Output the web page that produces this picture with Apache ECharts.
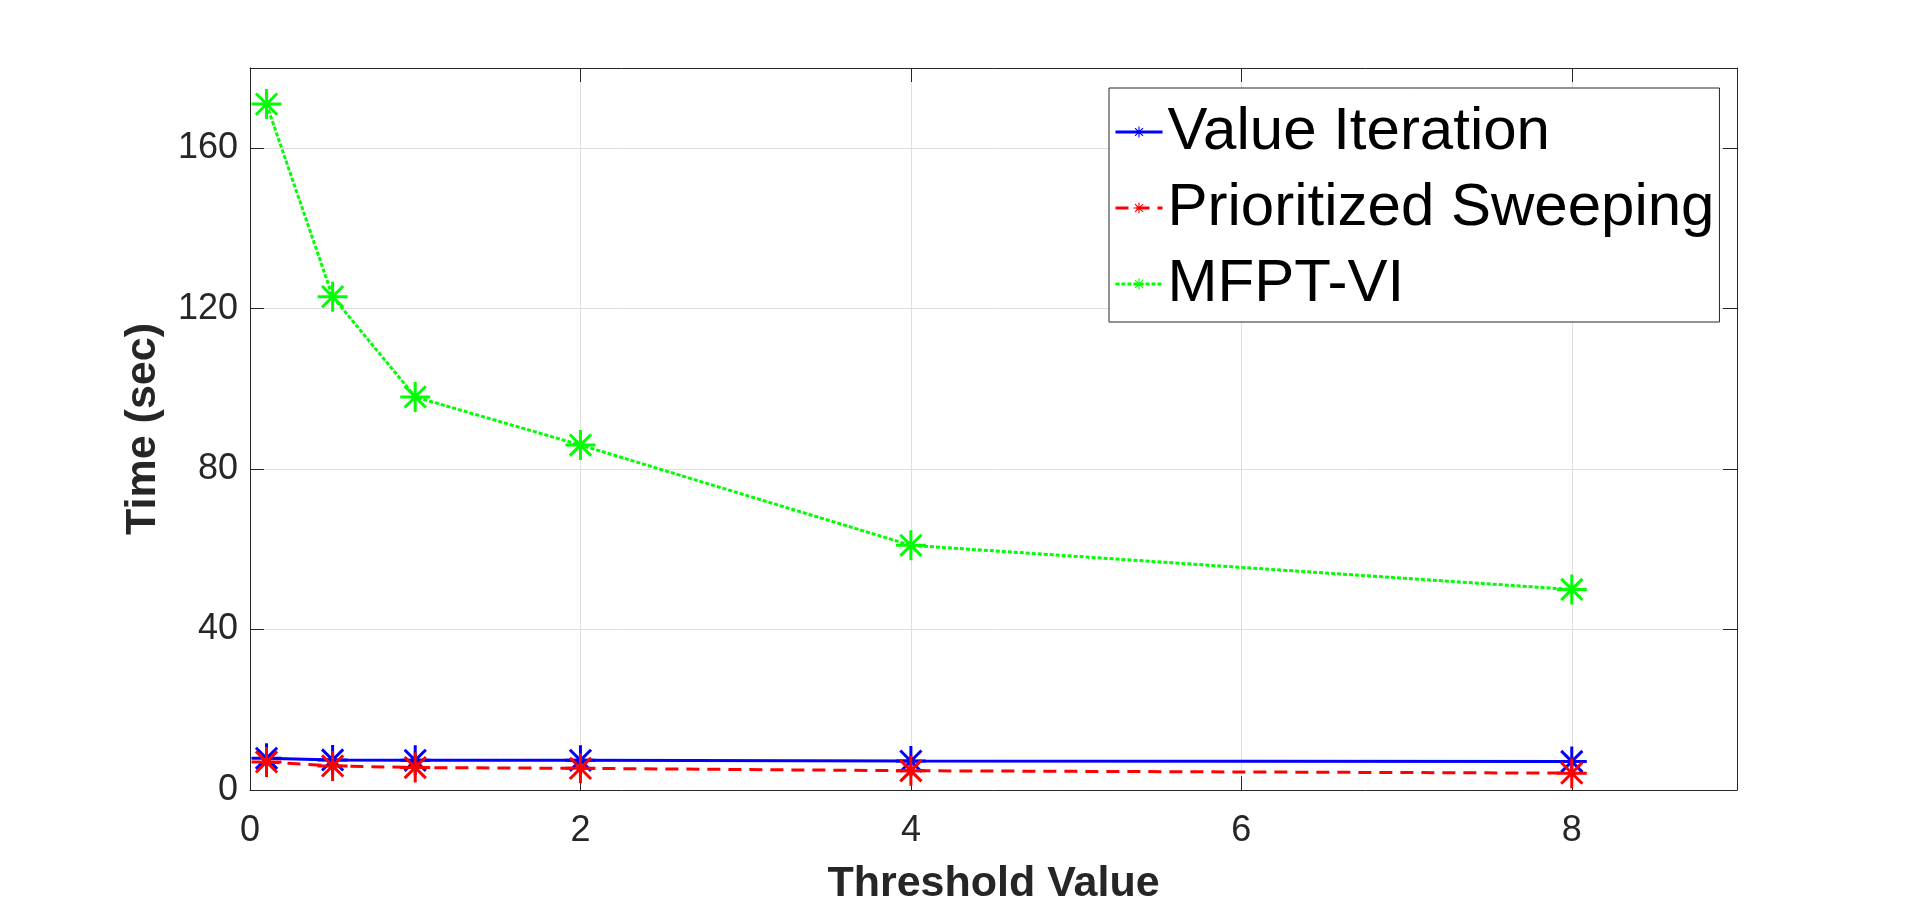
<!DOCTYPE html>
<html>
<head>
<meta charset="utf-8">
<script src="https://cdn.jsdelivr.net/npm/echarts@6/dist/echarts.min.js"></script>
<style>
  html, body { margin: 0; padding: 0; background: #fff; }
  #chart { width: 1920px; height: 911px; }
</style>
</head>
<body>
<div id="chart"></div>
<script>
const thresholds = [0.1, 0.5, 1, 2, 4, 8];
const valueIteration = [7.9, 7.5, 7.4, 7.4, 7.2, 7.1];
const prioritizedSweeping = [7.0, 6.0, 5.6, 5.4, 4.8, 4.2];
const mfptVI = [171, 123, 98, 86, 61, 50];

const xTicks = [0, 2, 4, 6, 8];
const yTicks = [0, 40, 80, 120, 160];

// matlab style '*' marker, made of four thin filled bars
const star = 'path://M0 13.5H30V16.5H0Z M13.5 0H16.5V30H13.5Z ' +
  'M5.46 3.34L26.66 24.54L24.54 26.66L3.34 5.46Z ' +
  'M3.34 24.54L24.54 3.34L26.66 5.46L5.46 26.66Z';

const font = 'Liberation Sans';
const ink = '#262626';

function pairs(ys) {
  return thresholds.map((x, i) => [x, ys[i]]);
}

const chart = echarts.init(document.getElementById('chart'));

const axisBase = {
  axisLine: { show: true, onZero: false, lineStyle: { color: ink, width: 1 } },
  axisTick: { show: true, inside: true, length: 14, lineStyle: { color: ink, width: 1 } }
};

const option = {
  backgroundColor: '#fff',
  animation: false,
  grid: { left: 250, right: 183, top: 68, bottom: 119 },
  legend: {
    orient: 'vertical',
    left: 1109,
    top: 88,
    padding: [6, 5, 0, 5],
    itemGap: 0,
    itemWidth: 47,
    itemHeight: 14,
    backgroundColor: '#fff',
    borderColor: ink,
    borderWidth: 1,
    borderRadius: 0,
    selectedMode: false,
    lineStyle: { width: 3 },
    textStyle: { fontFamily: font, fontSize: 60, color: '#000', lineHeight: 76 },
    data: ['Value Iteration', 'Prioritized Sweeping', 'MFPT-VI']
  },
  xAxis: [{
    type: 'value', min: 0, max: 9, interval: 2, position: 'bottom',
    name: 'Threshold Value', nameLocation: 'middle', nameGap: 73,
    nameTextStyle: { fontFamily: font, fontSize: 43, fontWeight: 'bold', color: ink },
    ...axisBase,
    axisLabel: {
      fontFamily: font, fontSize: 36, color: ink, margin: 23,
      formatter: v => xTicks.includes(v) ? String(v) : ''
    },
    splitLine: { show: true, lineStyle: { color: '#dfdfdf', width: 1 } }
  }, {
    type: 'value', min: 0, max: 9, interval: 2, position: 'top',
    ...axisBase,
    axisLabel: { show: false },
    splitLine: { show: false }
  }],
  yAxis: [{
    type: 'value', min: 0, max: 180, interval: 40, position: 'left',
    name: 'Time (sec)', nameLocation: 'middle', nameGap: 85,
    nameTextStyle: { fontFamily: font, fontSize: 43, fontWeight: 'bold', color: ink },
    ...axisBase,
    axisLabel: {
      fontFamily: font, fontSize: 36, color: ink, margin: 12,
      formatter: v => yTicks.includes(v) ? String(v) : ''
    },
    splitLine: { show: true, lineStyle: { color: '#dfdfdf', width: 1 } }
  }, {
    type: 'value', min: 0, max: 180, interval: 40, position: 'right',
    ...axisBase,
    axisLabel: { show: false },
    splitLine: { show: false }
  }],
  series: [{
    name: 'Value Iteration',
    type: 'line',
    data: pairs(valueIteration),
    symbol: star, symbolSize: 30,
    itemStyle: { color: '#0000ff' },
    lineStyle: { color: '#0000ff', width: 3, type: 'solid' },
    z: 2
  }, {
    name: 'Prioritized Sweeping',
    type: 'line',
    data: pairs(prioritizedSweeping),
    symbol: star, symbolSize: 30,
    itemStyle: { color: '#ff0000' },
    lineStyle: { color: '#ff0000', width: 3, type: [13, 8] },
    z: 3
  }, {
    name: 'MFPT-VI',
    type: 'line',
    data: pairs(mfptVI),
    symbol: star, symbolSize: 30,
    itemStyle: { color: '#00ff00' },
    lineStyle: { color: '#00ff00', width: 3, type: [4, 2] },
    z: 4
  }]
};

chart.setOption(option);
</script>
</body>
</html>
